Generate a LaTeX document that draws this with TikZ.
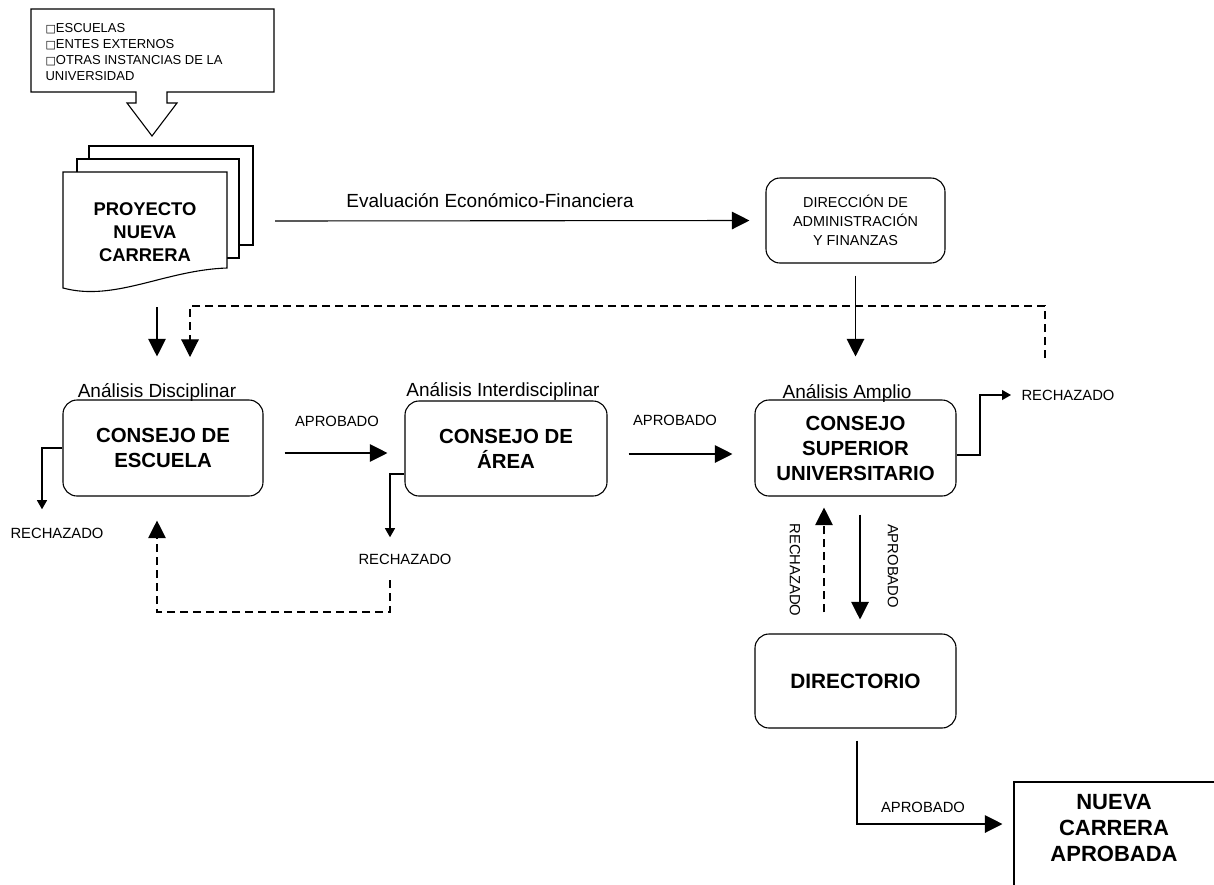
\documentclass[tikz,border=0pt]{standalone}
\usepackage{fontspec}
\setmainfont{Liberation Sans}
\newfontfamily\dejavu{DejaVu Sans}
\usetikzlibrary{arrows.meta,calc}
\begin{document}
\begin{tikzpicture}[x=0.5pt,y=-0.5pt,
  line width=0.55pt,
  rbox/.style={draw,rounded corners=7pt,align=center,inner sep=0pt,
    font=\bfseries\fontsize{10.2}{12.5}\selectfont},
  lbl/.style={font=\fontsize{9.5}{11}\selectfont,inner sep=0pt},
  sm/.style={font=\fontsize{7.4}{9}\selectfont,inner sep=0pt},
  bigarr/.style={-{Triangle[length=8.8pt,width=8.8pt]}},
  smarr/.style={-{Triangle[length=4.5pt,width=5pt]}},
  dsh/.style={dash pattern=on 4pt off 2.5pt}]
\useasboundingbox (0,0) rectangle (1214,884);
\fill[white] (0,0) rectangle (1214,884);

% callout
\draw (31,9) -- (274,9) -- (274,92) -- (167,92) -- (167,103) -- (177,103)
  -- (152,136) -- (127,103) -- (136,103) -- (136,92) -- (31,92) -- cycle;
\node[anchor=north west,inner sep=0pt,align=left,font=\fontsize{6.5}{8}\selectfont] (src) at (45,22.5)
  {{\dejavu\fontsize{5.5}{8}\selectfont □}ESCUELAS\\
   {\dejavu\fontsize{5.5}{8}\selectfont □}ENTES EXTERNOS\\
   {\dejavu\fontsize{5.5}{8}\selectfont □}OTRAS INSTANCIAS DE LA\\
   UNIVERSIDAD};

% document stack
\draw[fill=white] (89,146) rectangle (253,245);
\draw[fill=white] (77,159) rectangle (239,258);
\draw[fill=white] (63,172) -- (227,172) -- (227,268)
  .. controls (165,270) and (115,302) .. (63,288) -- cycle;
\node[font=\bfseries\fontsize{9.2}{11.5}\selectfont,align=center,inner sep=0pt] (proj) at (145,232)
  {PROYECTO\\NUEVA\\CARRERA};

% boxes
\node[rbox,minimum width=100pt,minimum height=48pt] (esc) at (163,448) {CONSEJO DE\\ESCUELA};
\node[rbox,minimum width=101pt,minimum height=47.5pt] (area) at (506,448.5) {CONSEJO DE\\ÁREA};
\node[rbox,minimum width=100.5pt,minimum height=48pt] (csu) at (855.5,448) {CONSEJO\\SUPERIOR\\UNIVERSITARIO};
\node[rbox,minimum width=100.5pt,minimum height=47pt,font=\bfseries\fontsize{10.4}{12.5}\selectfont] (dir) at (855.5,681) {DIRECTORIO};
\node[draw,rounded corners=7pt,minimum width=89.5pt,minimum height=42.5pt,align=center,inner sep=0pt,
  font=\fontsize{7.2}{9.5}\selectfont] (daf) at (855.5,220.5) {DIRECCIÓN DE\\ADMINISTRACIÓN\\Y FINANZAS};
\begin{scope}
\clip (0,0) rectangle (1214,884);
\node[draw,minimum width=108pt,minimum height=59pt,inner sep=0pt] (nbox) at (1122,841) {};
\end{scope}
\node[font=\bfseries\fontsize{11}{13}\selectfont,align=center,inner sep=0pt] (ntxt) at (1114,828)
  {NUEVA\\CARRERA\\APROBADA};

% labels
\node[lbl,anchor=base] (l1) at (157,397) {Análisis Disciplinar};
\node[lbl,anchor=base] (l2) at (503,396) {Análisis Interdisciplinar};
\node[lbl,anchor=base] (l3) at (847,398) {Análisis Amplio};
\node[lbl,anchor=base] (l4) at (490,207) {Evaluación Económico-Financiera};

\node[sm] (a1) at (337,421) {APROBADO};
\node[sm] (a2) at (675,420) {APROBADO};
\node[sm] (a3) at (923,807) {APROBADO};
\node[sm,rotate=-90] (a4) at (893,566) {APROBADO};
\node[sm] (r1) at (57,533) {RECHAZADO};
\node[sm] (r2) at (405,559) {RECHAZADO};
\node[sm] (r3) at (1068,395) {RECHAZADO};
\node[sm,rotate=-90] (r4) at (795,570) {RECHAZADO};

% coordinates
\coordinate (evs) at (275,221);
\coordinate (docb) at (157,307);
\coordinate (rjs) at (1045,358);
\coordinate (rjc) at (1045,306);
\coordinate (dfe) at (190,357);
\coordinate (r2d) at (390,580);
\coordinate (rjb) at (980,395);

% connectors
\draw[bigarr] (evs) -- ([xshift=-8pt]daf.west);
\draw[bigarr] ([yshift=-6pt]daf.south) -- ([yshift=21.5pt]csu.north);
\draw[bigarr] (docb) -- ([xshift=-3pt,yshift=21.5pt]esc.north);
\draw[bigarr,dsh] (rjs) -- (rjc) -| (dfe);
\draw[bigarr] ([xshift=10.5pt,yshift=-2.5pt]esc.east) -- ([xshift=-8.5pt,yshift=-2.25pt]area.west);
\draw[bigarr] ([xshift=10.5pt,yshift=-2.75pt]area.east) -- ([xshift=-11pt,yshift=-3pt]csu.west);
\draw[smarr] ([yshift=-3.5pt]csu.east) -| (rjb) -- ([xshift=-5pt]r3.west);
\draw[smarr] (esc.west) -| ([yshift=9pt]r1.north -| 42,0);
\draw[smarr] ([yshift=-12.75pt]area.west) -| ([yshift=8pt]r2.north -| 390,0);
\draw[bigarr,dsh] (r2d) |- (157,612) -- ([xshift=-3pt,yshift=-12pt]esc.south);
\draw[bigarr] ([xshift=2.25pt,yshift=-9pt]csu.south) -- ([xshift=2.25pt,yshift=7pt]dir.north);
\draw[bigarr,dsh] ([xshift=-15.75pt,yshift=10.5pt]dir.north) -- ([xshift=-15.75pt,yshift=-5.5pt]csu.south);
\draw[bigarr] ([xshift=0.75pt,yshift=-6pt]dir.south) |- ([xshift=-5.5pt,yshift=8.5pt]nbox.west);
\end{tikzpicture}
\end{document}
